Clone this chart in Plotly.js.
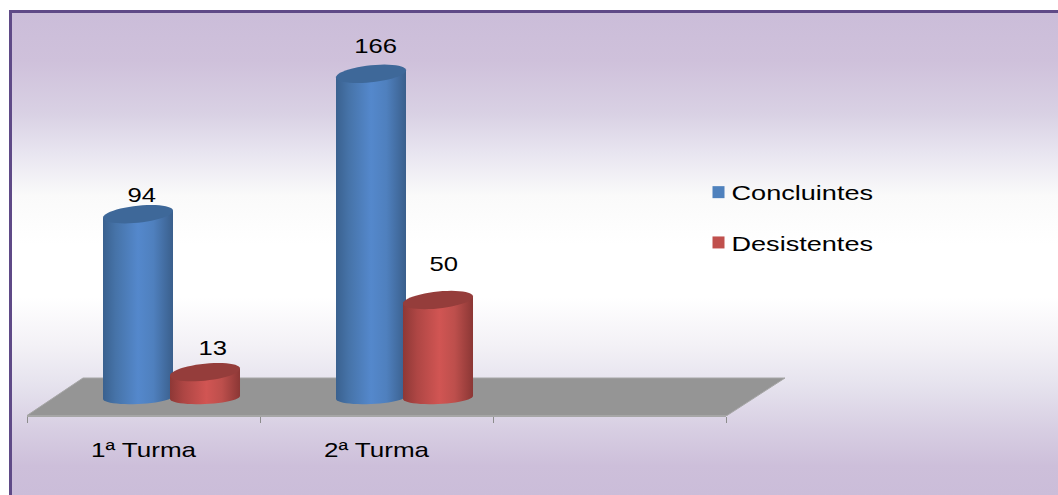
<!DOCTYPE html>
<html>
<head>
<meta charset="utf-8">
<script src="https://cdn.plot.ly/plotly-3.0.1.min.js"></script>
<style>
html,body{margin:0;padding:0;background:#fff;}
#frame{position:absolute;left:9px;top:10px;width:1049px;height:485px;box-sizing:border-box;
  border-left:3px solid #5f4a87;border-top:3px solid #5f4a87;
  background:linear-gradient(to bottom,#cbbdd9 0%,#cfc1db 10%,#d9d1e4 21%,#e8e5f0 29%,#fafafa 38%,#ffffff 48%,#ffffff 59%,#f3f1f6 69%,#e6e3ee 77%,#d8cfe3 86%,#cdbfda 94%,#cbbdd9 100%);}
#chart{position:absolute;left:0;top:0;width:1058px;height:495px;}
</style>
</head>
<body>
<div id="frame"></div>
<div id="chart"></div>
<script>
const categories = ["1ª Turma", "2ª Turma", " "];
const concluintes = [94, 166];
const desistentes = [13, 50];
const seriesNames = ["Concluintes", "Desistentes"];

// layout constants (pixels)
const W = 1058, H = 495;
const L = 27, R = 726, T = 20, B = 416;
const PXY = 1.95, Y0 = 397.5;
const catW = (R - L) / 3;
const yMin = (Y0 - B) / PXY, yMax = (Y0 - T) / PXY;
const offs = [-40.5 / catW, 26.5 / catW];
const dx = v => v / catW, dy = v => v / PXY;
const px = (x) => (x - L) / (R - L), py = (y) => (B - y) / (B - T);

function capPath(cx, cy) {
  const a = dx(35), b = dy(8.5), s = dy(3.5);
  let pts = [];
  for (let i = 0; i < 48; i++) {
    const t = i / 48 * 2 * Math.PI;
    pts.push([cx + a * Math.cos(t), cy + b * Math.sin(t) + s * Math.cos(t)]);
  }
  return 'M' + pts.map(p => p[0].toFixed(4) + ',' + p[1].toFixed(3)).join('L') + 'Z';
}
function bodyPath(cx, top) {
  const a = dx(35), b = dy(6.5), s = dy(1.5), s2 = dy(3.5);
  let pts = [[cx - a, top - s2], [cx + a, top + s2]];
  for (let i = 0; i <= 24; i++) {
    const t = i / 24 * Math.PI;
    pts.push([cx + a * Math.cos(t), -b * Math.sin(t) + s * Math.cos(t)]);
  }
  return 'M' + pts.map(p => p[0].toFixed(4) + ',' + p[1].toFixed(3)).join('L') + 'Z';
}

const shapes = [{
  type: 'path', xref: 'paper', yref: 'paper', layer: 'below',
  path: `M${px(27)},${py(415.5)}L${px(83)},${py(378)}L${px(785)},${py(378)}L${px(727)},${py(415.5)}Z`,
  fillcolor: '#959595', line: {width: 1, color: '#a6a6a6'}
}];
const gradShapes = [];
const series = [concluintes, desistentes];
[0, 1].forEach(ci => {
  series.forEach((vals, si) => {
    const cx = ci + offs[si] + dx(35), v = vals[ci];
    gradShapes.push([shapes.length, si]);
    shapes.push({type: 'path', xref: 'x', yref: 'y', layer: 'above', path: bodyPath(cx, v),
      fillcolor: si ? '#c0504d' : '#4f81bd', line: {width: 0}});
    shapes.push({type: 'path', xref: 'x', yref: 'y', layer: 'above', path: capPath(cx, v),
      fillcolor: si ? '#953d3b' : '#3e6899', line: {width: 0}});
  });
});

const labelDx = [[4, 7], [4, 5]];
const labelDy = [[20, 25], [28, 37]];
const annotations = [];
[0, 1].forEach(ci => series.forEach((vals, si) => {
  annotations.push({
    x: ci + offs[si] + dx(35), y: vals[ci], xref: 'x', yref: 'y', text: String(vals[ci]), showarrow: false,
    xshift: labelDx[ci][si], yshift: labelDy[ci][si], yanchor: 'middle',
    font: {size: 21, color: '#000', family: 'Liberation Sans, Arial, sans-serif'}
  });
}));

const traces = series.map((vals, si) => ({
  type: 'bar', name: seriesNames[si], x: categories.slice(0, vals.length), y: vals,
  width: 64 / catW, offset: offs[si] + 3 / catW,
  legendgroup: seriesNames[si],
  marker: {color: si ? '#c0504d' : '#4f81bd', line: {width: 0}},
  hoverinfo: 'name+y'
}));

const layout = {
  width: W, height: H, paper_bgcolor: 'rgba(0,0,0,0)', plot_bgcolor: 'rgba(0,0,0,0)',
  margin: {l: L, r: W - R, t: T, b: H - B, pad: 0, autoexpand: false},
  barmode: 'overlay', showlegend: true,
  font: {family: 'Liberation Sans, Arial, sans-serif', color: '#000', size: 21},
  xaxis: {
    type: 'category', categoryorder: 'array', categoryarray: categories,
    tickmode: 'array', tickvals: categories, ticktext: categories,
    range: [-0.5, 2.5], fixedrange: true, tickson: 'boundaries',
    ticks: 'outside', ticklen: 6, tickwidth: 1, tickcolor: '#8c8c8c',
    showline: true, linecolor: '#a6a6a6', linewidth: 1, showgrid: false, zeroline: false,
    ticklabelstandoff: 15, tickfont: {size: 21}
  },
  yaxis: {range: [yMin, yMax], visible: false, fixedrange: true},
  legend: {
    x: px(698.5), y: py(172), xanchor: 'left', yanchor: 'top',
    traceorder: 'grouped', tracegroupgap: 20, bgcolor: 'rgba(0,0,0,0)',
    entrywidth: 170, entrywidthmode: 'pixels', itemwidth: 30,
    font: {size: 21, color: '#000'}
  },
  shapes, annotations
};

Plotly.newPlot('chart', traces, layout, {displayModeBar: false}).then(gd => {
  const NS = 'http://www.w3.org/2000/svg';
  const svg = gd.querySelector('svg.main-svg');
  const defs = svg.querySelector('defs');
  const mk = (id, stops) => {
    const g = document.createElementNS(NS, 'linearGradient');
    g.setAttribute('id', id);
    g.setAttribute('x1', '0'); g.setAttribute('x2', '1'); g.setAttribute('y1', '0'); g.setAttribute('y2', '0');
    stops.forEach(s => {
      const st = document.createElementNS(NS, 'stop');
      st.setAttribute('offset', s[0]); st.setAttribute('stop-color', s[1]);
      g.appendChild(st);
    });
    defs.appendChild(g);
  };
  mk('gBlue', [[0, '#3a618f'], [0.18, '#4673a8'], [0.5, '#5488cc'], [0.72, '#4f80be'], [1, '#3a5f8c']]);
  mk('gRed', [[0, '#8e3836'], [0.2, '#ae4644'], [0.52, '#d15553'], [0.74, '#bd4f4c'], [1, '#8b3735']]);
  const ids = ['gBlue', 'gRed'];
  gd.querySelectorAll('.barlayer .trace').forEach((tr, i) => {
    tr.querySelectorAll('path').forEach(p => { p.style.fill = `url(#${ids[i]})`; });
  });
  gradShapes.forEach(([idx, si]) => {
    const p = gd.querySelector(`.layer-above .shapelayer path[data-index="${idx}"]`);
    if (p) p.style.fill = `url(#${ids[si]})`;
  });
  // the reference picture is stretched horizontally
  const stretch = (sel, k) => gd.querySelectorAll(sel).forEach(t => {
    const len = t.getComputedTextLength();
    if (len > 0) {
      t.setAttribute('textLength', (len * k).toFixed(1));
      t.setAttribute('lengthAdjust', 'spacingAndGlyphs');
    }
  });
  stretch('.annotation-text', 1.22);
  stretch('.xtick text', 1.24);
  stretch('.legendtext', 1.29);
  gd.querySelectorAll('.legendtext').forEach(t => {
    t.setAttribute('x', parseFloat(t.getAttribute('x')) - 7);
  });
  gd.querySelectorAll('.legend .scrollbox').forEach(s => s.removeAttribute('clip-path'));
});
</script>
</body>
</html>
